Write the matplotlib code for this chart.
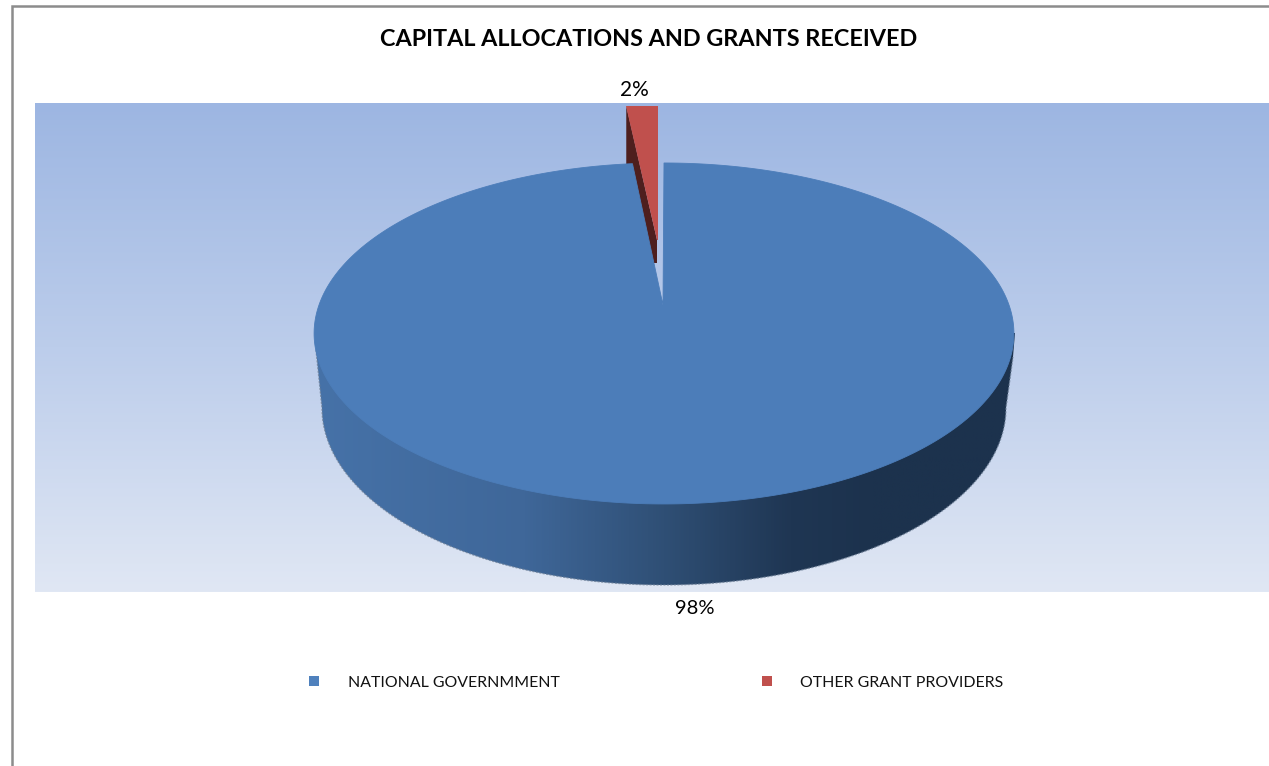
import numpy as np
import matplotlib
matplotlib.use("Agg")
import matplotlib.pyplot as plt
from matplotlib.colors import LinearSegmentedColormap
from matplotlib.patches import Polygon

# Chart data
title = "CAPITAL ALLOCATIONS AND GRANTS RECEIVED"
categories = ["NATIONAL GOVERNMMENT", "OTHER GRANT PROVIDERS"]
shares = [98, 2]
slice_colors = ["#4F81BD", "#C0504D"]

# Everything is laid out in pixels on one full-figure axes
W, H = 1269, 766
fig = plt.figure(figsize=(W / 100, H / 100), dpi=100)
ax = fig.add_axes([0, 0, 1, 1])
ax.set_xlim(0, W)
ax.set_ylim(H, 0)
ax.axis("off")

# Outer frame, only the top and left edges are inside the canvas
ax.plot([11.5, 11.5, W], [H, 6, 6], color="#8c8c8c", lw=1.8, solid_joinstyle="miter")

# Plot area gradient
plot_left, plot_top, plot_bottom = 35, 103, 592
bg_cmap = LinearSegmentedColormap.from_list("bg", ["#9DB6E2", "#BCCDEB", "#E0E7F4"])
ax.imshow(np.linspace(0, 1, 256)[:, None], cmap=bg_cmap, aspect="auto", zorder=1,
          extent=[plot_left, W, plot_bottom, plot_top])
ax.set_xlim(0, W)
ax.set_ylim(H, 0)

# Perspective projection of the unit disc onto the pie's top surface
cx, apex_y = 664, 305
persp = 0.167
slope = -114.8
half_w = 345


def top_surface(u, v):
    w = 1 + persp * v
    return cx + half_w * u / w, (slope * v + apex_y) / w


sweep = np.radians(shares[1] / sum(shares) * 360)
rim_squeeze = 0.85  # the opening reads narrower on the far rim

# Side wall of the pie, a lower ellipse with a horizontal shade
low_cx, low_cy, low_a, low_b = 664, 408, 342, 177
t = np.linspace(np.pi, 0, 400)
wall_x = np.r_[315, 316, low_cx + low_a * np.cos(t), 1013, 1015]
wall_y = np.r_[333, 350, low_cy + low_b * np.sin(t), 357, 333]
wall_cmap = LinearSegmentedColormap.from_list(
    "wall", [(0, "#4672A8"), (0.3, "#3F6799"), (0.5, "#2F4F75"),
             (0.68, "#1F3653"), (0.8, "#1C324D"), (1, "#1C324D")])
grad = ax.imshow(np.linspace(0, 1, 512)[None, :], cmap=wall_cmap, aspect="auto", zorder=2,
                 extent=[314, 1015, 590, 330])
wall = Polygon(np.c_[wall_x, wall_y], closed=True, transform=ax.transData, fc="none", ec="none")
ax.add_patch(wall)
grad.set_clip_path(wall)
ax.plot(wall_x[1:-1], wall_y[1:-1], color="#6d7f96", lw=1.0, ls=(0, (1.5, 1)), alpha=0.7, zorder=2.5)
ax.set_xlim(0, W)
ax.set_ylim(H, 0)

# Exploded small slice: dark inner wall first, then its top face
red_apex_x = 657
red_wall_tip_y = 263
red_face_tip_y = 240
red_top_y = 106
red_left = red_apex_x + 1 - (red_wall_tip_y - red_top_y) * 1.6 * np.tan(sweep)
ax.add_patch(Polygon([(red_left, red_top_y), (red_apex_x, red_face_tip_y),
                      (red_apex_x, red_wall_tip_y), (red_left, red_wall_tip_y)],
                     fc="#4E1F1E", ec="none", zorder=3))
ax.add_patch(Polygon([(red_left, red_top_y), (red_apex_x + 1, red_top_y),
                      (red_apex_x + 1, red_face_tip_y), (red_apex_x, red_face_tip_y)],
                     fc=slice_colors[1], ec="none", zorder=3.1))

# Main slice top face, running clockwise from twelve o'clock round to the gap
angles = np.linspace(0, 2 * np.pi - sweep * rim_squeeze, 800)
rim_x, rim_y = top_surface(np.sin(angles), np.cos(angles))
ax.add_patch(Polygon(np.c_[np.r_[rim_x, cx - 1], np.r_[rim_y, apex_y]], closed=True,
                     fc="#4C7DB9", ec="#4C7DB9", lw=0.6, zorder=4))

# Text
ax.text(648.5, 40, title, ha="center", va="center", fontsize=16.8, fontweight="bold",
        family="Lato", color="black", zorder=6)
ax.text(634, 90, f"{shares[1]}%", ha="center", va="center", fontsize=15,
        family="Lato", color="black", zorder=6)
ax.text(694.5, 609, f"{shares[0]}%", ha="center", va="center", fontsize=14.5,
        family="Lato", color="black", zorder=6)

# Legend
legend_marker_x = [314, 767]
legend_text_x = [348, 800]
for mx, tx, name, col in zip(legend_marker_x, legend_text_x, categories, slice_colors):
    ax.scatter([mx], [681], marker="s", s=52, color=col, linewidths=0, zorder=6)
    ax.text(tx, 683, name, ha="left", va="center", fontsize=11.4,
            family="Lato", color="#111111", zorder=6)

fig.savefig("out.png", dpi=100)
